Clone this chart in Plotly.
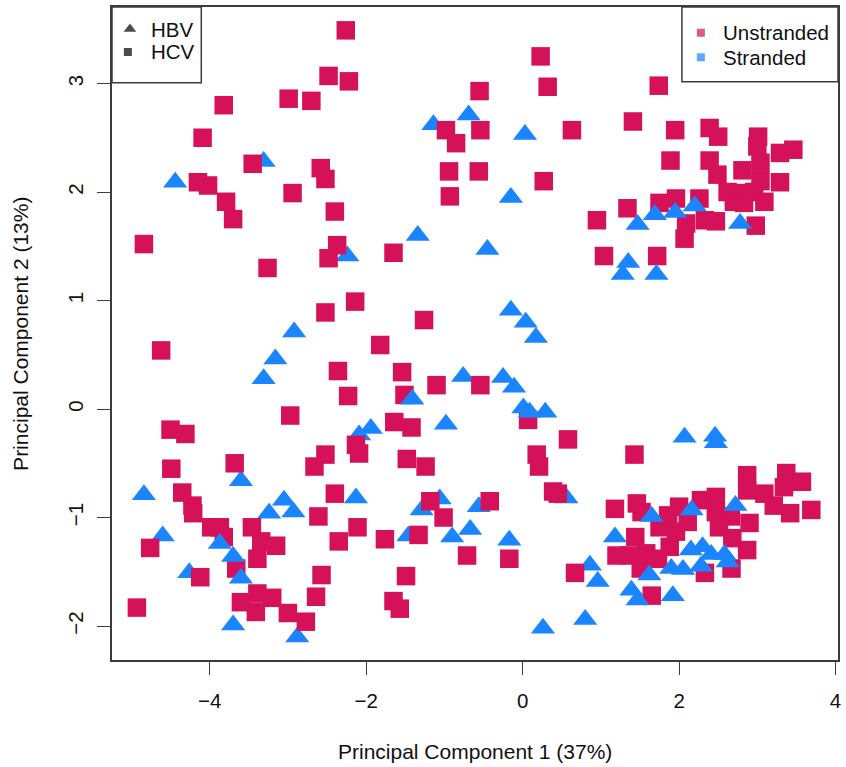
import plotly.graph_objects as go

# PCA scores: HCV samples (unstranded libraries)
hcv_x = [-2.26, -2.48, -2.22, -2.99, -2.70, -3.82, -4.09, -3.45, -2.58, -2.52,
         -4.15, -4.02, -2.94, -3.79, -3.70, -2.40, -4.84, -2.37, -2.48, -3.26,
         -2.14, -2.52, -4.62, -2.36, -2.23, -2.97, -4.50, -4.31, -2.52, -2.13,
         -2.09, 0.23, 0.32, -0.55, -0.98, -0.54, -0.85, 0.63, -0.94, -0.56,
         0.27, -0.93, 1.74, 1.41, 1.95, 2.39, 2.50, 3.01, 3.00, 3.29,
         3.46, 1.89, 2.39, 2.49, 2.81, 3.04, 3.04, 3.29, 2.62, 2.79,
         2.96, 2.70, 3.09, 2.83, 0.95, 1.34, 1.75, 1.96, 2.26, 2.33,
         2.47, 2.09, 2.98, 2.07, 1.04, 1.72, -1.65, -1.26, -1.82, -1.54,
         -1.10, -0.54, -1.51, -1.64, -1.42, 0.07, 0.58, 0.18, 0.21, -4.49,
         -3.68, -4.35, -4.22, -4.21, -3.98, -3.87, -4.76, -3.46, -3.34, -3.15,
         -3.39, -3.66, -4.12, -3.82, -3.39, -3.60, -3.20, -3.41, -3.00, -2.77,
         -4.93, -2.66, -2.40, -2.61, -2.35, -2.57, -2.64, -2.11, -1.48, -1.24,
         -1.76, -1.18, -1.01, -1.33, -0.42, -0.71, -0.17, 0.39, 0.45, 0.67,
         -1.49, -1.65, -1.57, 1.43, 1.18, 1.46, 1.52, 2.87, 3.37, 3.57,
         3.34, 3.09, 2.87, 2.47, 2.28, 3.69, 3.42, 3.21, 2.00, 1.86,
         2.11, 2.47, 2.66, 2.90, 2.51, 1.75, 1.96, 1.44, 2.87, 2.68,
         1.88, 1.20, 1.37, 1.58, 1.73, 1.51, 2.33, 2.67, 1.65]
hcv_y = [3.49, 3.07, 3.02, 2.86, 2.84, 2.80, 2.50, 2.26, 2.22, 2.12,
         2.09, 2.06, 1.99, 1.91, 1.75, 1.82, 1.52, 1.51, 1.39, 1.30,
         0.99, 0.89, 0.54, 0.35, 0.12, -0.06, -0.19, -0.23, -0.42, -0.33,
         -0.41, 3.25, 2.97, 2.93, 2.57, 2.57, 2.45, 2.57, 2.19, 2.19,
         2.10, 1.96, 2.98, 2.65, 2.57, 2.59, 2.51, 2.51, 2.42, 2.36,
         2.39, 2.29, 2.29, 2.16, 2.20, 2.27, 2.10, 2.09, 2.00, 1.99,
         2.00, 1.91, 1.91, 1.90, 1.74, 1.85, 1.90, 1.94, 1.94, 1.74,
         1.73, 1.71, 1.69, 1.57, 1.41, 1.41, 1.44, 0.82, 0.59, 0.34,
         0.22, 0.22, 0.13, -0.12, -0.17, -0.10, -0.28, -0.42, -0.53, -0.55,
         -0.50, -0.77, -0.89, -0.96, -1.09, -1.09, -1.28, -1.09, -1.22, -1.26,
         -1.38, -1.47, -1.55, -1.18, -1.70, -1.78, -1.74, -1.87, -1.88, -1.96,
         -1.83, -0.53, -0.78, -0.99, -1.22, -1.53, -1.73, -1.09, -0.46, -0.53,
         -1.20, -0.85, -1.00, -1.16, -0.85, -1.35, -1.38, -0.76, -0.78, -1.51,
         -1.54, -1.77, -1.84, -0.42, -0.92, -0.87, -0.95, -0.61, -0.59, -0.67,
         -0.72, -0.78, -0.75, -0.81, -0.84, -0.93, -0.96, -0.89, -0.90, -0.98,
         -1.04, -0.95, -0.99, -1.05, -1.09, -1.09, -1.13, -1.18, -1.30, -1.19,
         -1.27, -1.35, -1.35, -1.33, -1.38, -1.47, -1.51, -1.47, -1.72]

# PCA scores: HBV samples (stranded libraries)
hbv_x = [-4.44, -3.31, -1.14, -0.69, 0.03, -0.15, -1.34, -0.45, -2.24, 1.47,
         1.69, 1.95, 2.20, 2.78, 1.35, 1.28, 1.71, 2.07, 2.46, 2.47,
         -2.92, -3.16, -3.31, -0.15, 0.04, 0.17, -0.76, -0.25, -0.11, -1.41,
         0.01, 0.09, 0.29, -0.98, -1.94, -2.09, -4.84, -3.60, -3.05, -3.24,
         -2.93, -2.13, -4.60, -3.87, -3.70, -3.60, -4.26, -3.70, -2.88, -1.29,
         -1.06, -0.56, -1.46, -0.90, -0.67, -0.17, 0.56, 0.86, 0.96, 0.26,
         0.80, 1.18, 1.65, 2.16, 2.72, 1.39, 1.47, 1.62, 1.92, 1.90,
         2.05, 2.15, 2.30, 2.28, 2.41, 2.58, 2.62]
hbv_y = [2.09, 2.28, 2.62, 2.71, 2.53, 1.95, 1.60, 1.47, 1.41, 1.70,
         1.79, 1.81, 1.87, 1.71, 1.35, 1.24, 1.24, -0.26, -0.25, -0.31,
         0.71, 0.46, 0.28, 0.91, 0.80, 0.66, 0.30, 0.29, 0.20, 0.09,
         0.01, -0.03, -0.03, -0.14, -0.18, -0.24, -0.79, -0.66, -0.84, -0.96,
         -0.95, -0.82, -1.17, -1.24, -1.36, -1.56, -1.51, -1.99, -2.10, -0.93,
         -0.83, -0.90, -1.17, -1.18, -1.11, -1.21, -0.82, -1.44, -1.59, -2.02,
         -1.94, -1.18, -0.99, -0.93, -0.89, -1.67, -1.76, -1.53, -1.72, -1.47,
         -1.48, -1.30, -1.27, -1.45, -1.34, -1.34, -1.41]

x_ticks = [-4, -2, 0, 2, 4]
y_ticks = [-2, -1, 0, 1, 2, 3]
x_title = "Principal Component 1 (37%)"
y_title = "Principal Component 2 (13%)"
shape_legend = ["HBV", "HCV"]
color_legend = ["Unstranded", "Stranded"]

RED = "#D41159"
BLUE = "#1A85FF"
FONT = "Liberation Sans, Arial, Helvetica, sans-serif"
INK = "#111111"
FRAME = "#3c3c3c"


def drawn_late(x, y):
    """HBV points that sit in front of overlapping HCV squares."""
    return (x >= 1.1
            or (-1.5 < x and -0.2 <= y <= 0.25)
            or (-3.9 < x < -3.5 and y < -1.2))


late = [drawn_late(x, y) for x, y in zip(hbv_x, hbv_y)]
hbv_back = [(x, y) for x, y, l in zip(hbv_x, hbv_y, late) if not l]
hbv_front = [(x, y) for x, y, l in zip(hbv_x, hbv_y, late) if l]

tri_marker = dict(symbol="triangle-up", size=21, color=BLUE, line=dict(width=0))
sq_marker = dict(symbol="square", size=18.5, color=RED, line=dict(width=0))

fig = go.Figure()
fig.add_trace(go.Scatter(
    x=[p[0] for p in hbv_back], y=[p[1] for p in hbv_back], mode="markers",
    name="HBV", marker=tri_marker, showlegend=False, hoverinfo="skip"))
fig.add_trace(go.Scatter(
    x=hcv_x, y=hcv_y, mode="markers", name="HCV",
    marker=sq_marker, showlegend=False, hoverinfo="skip"))
fig.add_trace(go.Scatter(
    x=[p[0] for p in hbv_front], y=[p[1] for p in hbv_front], mode="markers",
    name="HBV", marker=tri_marker, showlegend=False, hoverinfo="skip"))

# Legend keys drawn on an overlay axis spanning the plot area in [0, 1]
key_x = [0.0247, 0.0219, 0.8111, 0.8111]
key_y = [0.9663, 0.9311, 0.9606, 0.9230]
fig.add_trace(go.Scatter(
    x=key_x, y=key_y, xaxis="x2", yaxis="y2", mode="markers",
    marker=dict(symbol=["triangle-up", "square", "square", "square"],
                size=[11, 8, 8, 8], color=["#000000", "#000000", RED, BLUE],
                line=dict(width=0)),
    showlegend=False, hoverinfo="skip"))

axis_common = dict(
    showgrid=False, zeroline=False, showline=True, mirror=True,
    linecolor=FRAME, linewidth=1.5, ticks="outside", ticklen=13,
    tickwidth=1.3, tickcolor=FRAME,
    tickfont=dict(family=FONT, size=20.5, color=INK),
)

fig.update_layout(
    width=846, height=767,
    margin=dict(l=112, r=5, t=7, b=107),
    paper_bgcolor="white", plot_bgcolor="white",
    xaxis=dict(range=[-5.248, 4.031], tickvals=x_ticks, ticklabelstandoff=9,
               **axis_common),
    yaxis=dict(range=[-2.313, 3.705], tickvals=y_ticks, tickangle=-90,
               ticklabelstandoff=6, **axis_common),
    xaxis2=dict(range=[0, 1], overlaying="x", visible=False, fixedrange=True),
    yaxis2=dict(range=[0, 1], overlaying="y", visible=False, fixedrange=True),
    showlegend=False,
)

# Legend frames
fig.add_shape(type="rect", xref="paper", yref="paper", x0=0, x1=0.1230,
              y0=0.884, y1=1, line=dict(color=FRAME, width=1.5),
              fillcolor="white", layer="below")
fig.add_shape(type="rect", xref="paper", yref="paper", x0=0.785, x1=1,
              y0=0.8856, y1=1, line=dict(color=FRAME, width=1.5),
              fillcolor="white", layer="below")

legend_text = [
    (shape_legend[0], 0.0512, 0.9663),
    (shape_legend[1], 0.0512, 0.9316),
    (color_legend[0], 0.8385, 0.9606),
    (color_legend[1], 0.8385, 0.9230),
]
for txt, lx, ly in legend_text:
    fig.add_annotation(text=txt, xref="paper", yref="paper", x=lx, y=ly,
                       xanchor="left", yanchor="middle", showarrow=False,
                       font=dict(family=FONT, size=20.5, color=INK))

# Axis titles
fig.add_annotation(text=x_title, xref="paper", yref="paper", x=0.5, y=-0.1394,
                   xanchor="center", yanchor="middle", showarrow=False,
                   font=dict(family=FONT, size=21, color=INK))
fig.add_annotation(text=y_title, xref="paper", yref="paper", x=-0.1262, y=0.5,
                   xanchor="center", yanchor="middle", textangle=-90,
                   showarrow=False, font=dict(family=FONT, size=21, color=INK))

fig.write_html("out.html")
